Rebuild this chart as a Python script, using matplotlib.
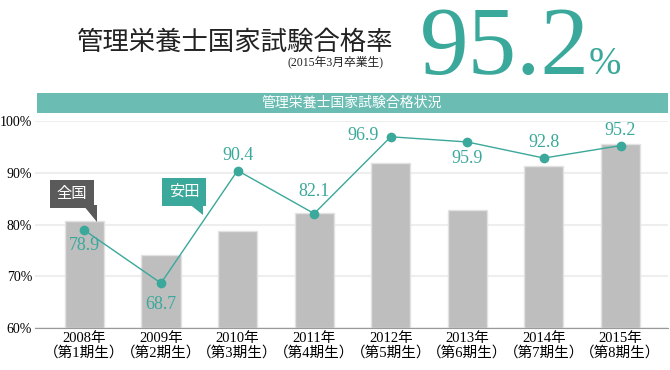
import matplotlib
matplotlib.use("Agg")
import matplotlib.pyplot as plt
from matplotlib.patches import Polygon, Rectangle

plt.rcParams['font.family'] = ['Liberation Serif', 'Noto Sans CJK JP']

years = ['2008年', '2009年', '2010年', '2011年', '2012年', '2013年', '2014年', '2015年']
terms = ['（第1期生）', '（第2期生）', '（第3期生）', '（第4期生）',
         '（第5期生）', '（第6期生）', '（第7期生）', '（第8期生）']
national = [80.7, 74.2, 78.8, 82.2, 91.8, 82.8, 91.3, 95.5]
yasuda = [78.9, 68.7, 90.4, 82.1, 96.9, 95.9, 92.8, 95.2]
yticks = [60, 70, 80, 90, 100]

# label placement: (dx, dy) in points, ha, va
label_pos = [(0, -5, 'center', 'top'), (0, -9, 'center', 'top'),
             (0, 5, 'center', 'bottom'), (0, 10, 'center', 'bottom'),
             (-9, 1, 'right', 'center'), (0, -6, 'center', 'top'),
             (0, 5, 'center', 'bottom'), (0, 5, 'center', 'bottom')]

teal = '#3aa89a'
x = list(range(len(years)))

fig = plt.figure(figsize=(6.7, 3.7), dpi=100)
ax = fig.add_axes([35 / 670, 41.7 / 370, 633 / 670, 207.6 / 370])

ax.bar(x, [v - 60 for v in national], bottom=60, width=0.51, color='#bebebe',
       edgecolor='#e2e2e2', linewidth=1, zorder=2)
ax.plot(x, yasuda, color=teal, linewidth=1, marker='o', markersize=7,
        markeredgewidth=0, zorder=4)
for i, v in enumerate(yasuda):
    dx, dy, ha, va = label_pos[i]
    ax.annotate(f'{v:.1f}', (i, v), xytext=(dx, dy), textcoords='offset points',
                ha=ha, va=va, color=teal, fontsize=13, zorder=5)

ax.set_xlim(-0.645, 7.62)
ax.set_ylim(60, 100)
ax.set_yticks(yticks)
ax.set_yticklabels([f'{t}%' for t in yticks], fontsize=10)
ax.set_xticks(x)
ax.set_xticklabels([f'{a}\n{b}' for a, b in zip(years, terms)], fontsize=10.5,
                   linespacing=1.0)
ax.tick_params(axis='y', length=0, pad=2)
ax.tick_params(axis='x', length=0, pad=3)
ax.grid(axis='y', color='#eeeeee', linewidth=1.5, zorder=0)
for s in ['top', 'right', 'left']:
    ax.spines[s].set_visible(False)
ax.spines['bottom'].set_color('#999999')
ax.spines['bottom'].set_zorder(3)

# callouts
ax.text(-0.16, 85.9, '全国', ha='center', va='center', color='white', fontsize=11,
        zorder=6, bbox=dict(boxstyle='square,pad=0.45', fc='#5a5a5a', ec='none'))
ax.add_patch(Polygon([[-0.02, 83.7], [0.16, 83.7], [0.16, 80.5]], closed=True,
                     fc='#5a5a5a', ec='none', zorder=6))
ax.text(1.3, 86.3, '安田', ha='center', va='center', color='white', fontsize=11,
        zorder=6, bbox=dict(boxstyle='square,pad=0.45', fc=teal, ec='none'))
ax.add_patch(Polygon([[1.35, 84.1], [1.55, 84.1], [1.55, 81.8]], closed=True,
                     fc=teal, ec='none', zorder=6))

# header
fig.text(0.349, 0.885, '管理栄養士国家試験合格率', ha='center', va='center',
         fontsize=19, family=['Noto Sans CJK JP'], color='#222222')
fig.text(0.5, 0.83, '(2015年3月卒業生)', ha='center', va='center', fontsize=8.5,
         color='#222222')
fig.text(0.627, 0.80, '95.2', ha='left', va='baseline', fontsize=70, color=teal)
fig.text(0.878, 0.80, '%', ha='left', va='baseline', fontsize=28, color=teal)

fig.add_artist(Rectangle((37 / 670, 257 / 370), 631 / 670, 20 / 370,
                         transform=fig.transFigure, fc='#6bbcb3', ec='none'))
fig.text(352 / 670, 267 / 370, '管理栄養士国家試験合格状況', ha='center', va='center',
         fontsize=10, color='white')

fig.savefig('out.png', dpi=100)
